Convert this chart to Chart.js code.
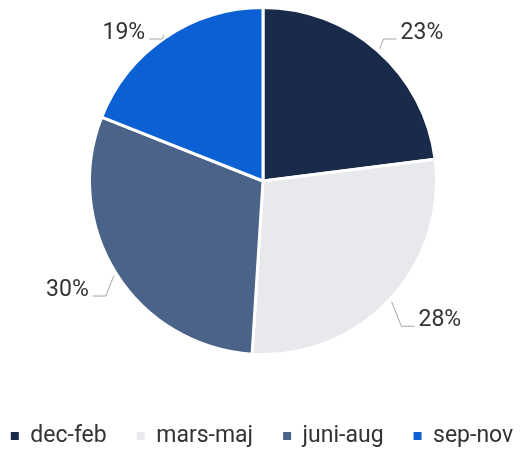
<!DOCTYPE html>
<html>
<head>
<meta charset="utf-8">
<script src="https://cdn.jsdelivr.net/npm/chart.js@4"></script>
<style>
  html, body { margin: 0; padding: 0; background: #fff; }
  #wrap { width: 526px; height: 451px; }
</style>
</head>
<body>
<div id="wrap"><canvas id="season-chart"></canvas></div>
<script>
// Data
var seasons = ['dec-feb', 'mars-maj', 'juni-aug', 'sep-nov'];
var shares = [23, 28, 30, 19];
var sliceColors = ['#1a2a4b', '#e8e9ed', '#4b6388', '#0b60d3'];

// draws the % labels with the little bent leader lines
var outsideLabels = {
  id: 'outsideLabels',
  afterDatasetsDraw: function(chart) {
    var ctx = chart.ctx;
    var meta = chart.getDatasetMeta(0);
    ctx.save();
    ctx.font = '23px Roboto';
    ctx.textBaseline = 'middle';
    meta.data.forEach(function(arc, i) {
      var p = arc.getProps(['x', 'y', 'startAngle', 'endAngle', 'outerRadius'], true);
      var mid = (p.startAngle + p.endAngle) / 2;
      var cos = Math.cos(mid), sin = Math.sin(mid);
      var side = cos >= 0 ? 1 : -1;
      var sx = p.x + cos * (p.outerRadius + 3);
      var sy = p.y + sin * (p.outerRadius + 3);
      var labelY = Math.max(p.y + sin * (p.outerRadius + 30), chart.chartArea.top + 27);
      var lineY = labelY + 6;
      var ex = sx + side * Math.abs(lineY - sy) * 0.4;
      var hx = ex + side * 13;
      ctx.strokeStyle = '#a6a6a6';
      ctx.lineWidth = 1;
      ctx.beginPath();
      ctx.moveTo(sx, sy);
      ctx.lineTo(ex, lineY);
      ctx.lineTo(hx, lineY);
      ctx.stroke();
      ctx.fillStyle = '#333333';
      ctx.textAlign = side > 0 ? 'left' : 'right';
      ctx.fillText(shares[i] + '%', hx + side * 4, labelY);
    });
    ctx.restore();
  }
};

var ctx = document.getElementById('season-chart').getContext('2d');
var seasonChart = new Chart(ctx, {
  type: 'pie',
  data: {
    labels: seasons,
    datasets: [{
      data: shares,
      backgroundColor: sliceColors,
      borderColor: '#ffffff',
      borderWidth: 3,
      hoverOffset: 0
    }]
  },
  options: {
    responsive: true,
    maintainAspectRatio: false,
    animation: false,
    layout: {
      // negative sides so the legend fits on one row
      padding: { top: 6, left: -20, right: -18, bottom: -6.5 }
    },
    plugins: {
      legend: {
        display: true,
        position: 'bottom',
        title: {
          display: true,
          text: '',
          font: { size: 10, lineHeight: 1 },
          padding: { top: 28.5, bottom: 0 }
        },
        labels: {
          usePointStyle: true,
          pointStyle: 'rect',
          boxWidth: 8,
          boxHeight: 8,
          padding: 30,
          color: '#333333',
          font: { family: 'Roboto', size: 23 },
          generateLabels: function(chart) {
            var items = Chart.overrides.pie.plugins.legend.labels.generateLabels(chart);
            items.forEach(function(item) { item.lineWidth = 0; });
            return items;
          }
        }
      },
      tooltip: { enabled: false }
    }
  },
  plugins: [outsideLabels]
});
</script>
</body>
</html>
